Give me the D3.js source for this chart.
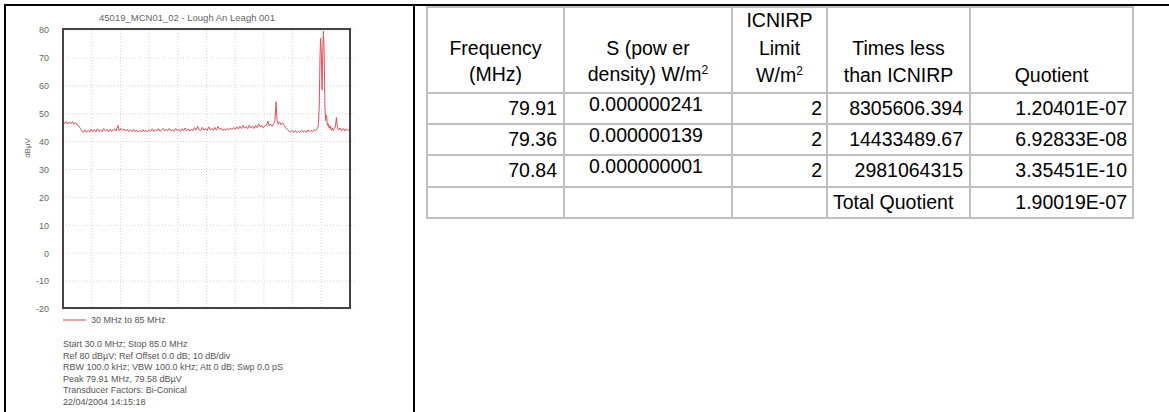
<!DOCTYPE html>
<html>
<head>
<meta charset="utf-8">
<script src="https://cdn.jsdelivr.net/npm/d3@7"></script>
<style>
  body { margin: 0; background: #fff; }
  svg { display: block; font-family: "Liberation Sans", Arial, sans-serif; }
</style>
</head>
<body>
<script>
// spectrum trace: [MHz, dBuV]
const traceMHz = [30.0,30.3,30.6,30.9,31.2,31.5,31.8,32.1,32.4,32.7,33.0,33.3,33.6,33.9,34.2,34.5,34.8,35.1,35.4,35.7,
  36.0,36.3,36.6,36.9,37.2,37.5,37.8,38.1,38.4,38.7,39.0,39.3,39.6,39.9,40.2,40.5,40.8,41.1,41.4,41.7,
  42.0,42.3,42.6,42.9,43.2,43.5,43.8,44.1,44.4,44.7,45.0,45.3,45.6,45.9,46.2,46.5,46.8,47.1,47.4,47.7,
  48.0,48.3,48.6,48.9,49.2,49.5,49.8,50.1,50.4,50.7,51.0,51.3,51.6,51.9,52.2,52.5,52.8,53.1,53.4,53.7,
  54.0,54.3,54.6,54.9,55.2,55.5,55.8,56.1,56.4,56.7,57.0,57.3,57.6,57.9,58.2,58.5,58.8,59.1,59.4,59.7,
  60.0,60.3,60.6,60.9,61.2,61.5,61.8,62.1,62.4,62.7,63.0,63.3,63.6,63.9,64.2,64.5,64.8,65.1,65.4,65.7,
  66.0,66.3,66.6,66.9,67.2,67.5,67.8,68.1,68.4,68.7,69.0,69.3,69.5,69.8,70.1,70.4,70.6,70.84,71.0,71.2,
  71.5,71.8,72.1,72.4,72.7,73.0,73.3,73.6,73.9,74.2,74.5,74.8,75.1,75.4,75.7,76.0,76.3,76.6,76.9,77.2,
  77.5,77.8,78.1,78.4,78.7,78.9,79.1,79.25,79.36,79.5,79.65,79.8,79.91,80.05,80.2,80.35,80.5,80.65,80.8,81.0,
  81.2,81.4,81.6,81.8,82.0,82.2,82.4,82.6,82.8,83.1,83.4,83.7,84.0,84.3,84.6,85.0];
const traceDB = [47.2,46.5,47.2,46.3,47.0,46.4,47.2,46.2,46.8,45.9,45.6,44.8,44.0,43.3,44.2,43.3,44.0,43.4,44.4,43.6,
  44.3,43.5,44.6,43.7,44.2,43.5,44.7,43.8,44.3,43.5,44.4,43.7,44.1,44.6,43.8,45.8,43.9,44.8,44.0,44.5,
  43.8,44.4,43.6,44.2,43.6,44.4,43.5,44.1,43.4,44.0,43.5,44.3,43.6,44.1,43.4,44.2,43.7,44.6,43.6,44.3,
  43.8,44.7,43.7,44.2,44.8,43.8,44.4,43.9,44.8,43.8,44.3,43.7,44.7,43.9,44.4,43.6,44.6,43.9,44.9,44.0,
  44.6,43.8,44.5,43.9,45.0,44.1,45.5,44.2,43.9,45.1,44.1,44.7,43.9,45.3,44.2,44.8,44.0,45.1,44.1,45.4,
  44.3,44.8,43.9,44.6,44.0,44.7,44.2,44.9,44.3,45.1,44.4,45.3,44.5,45.5,44.7,45.8,44.8,45.4,44.6,45.9,
  44.9,45.6,44.7,45.8,45.0,46.4,45.2,45.9,44.9,45.7,45.9,47.3,45.7,46.3,45.5,46.6,47.5,54.3,48.0,46.2,
  47.1,46.0,46.7,45.8,45.0,44.4,43.8,43.4,44.0,43.3,43.9,43.2,43.8,43.3,44.1,43.4,43.9,43.3,44.2,43.5,
  44.1,43.6,44.3,43.8,44.6,45.5,52.0,70.0,77.0,72.0,58.6,74.0,79.58,72.0,52.0,47.5,49.5,45.8,46.5,44.8,
  45.7,44.1,45.0,43.9,44.7,45.2,48.6,45.0,44.2,44.9,43.9,44.7,43.8,44.6,44.0,44.6];
const yTicks = [80, 70, 60, 50, 40, 30, 20, 10, 0, -10, -20];
const chartTitle = "45019_MCN01_02 - Lough An Leagh 001";
const legendLabel = "30 MHz to 85 MHz";
const notes = [
  "Start 30.0 MHz; Stop 85.0 MHz",
  "Ref 80 dB\u00b5V; Ref Offset 0.0 dB; 10 dB/div",
  "RBW 100.0 kHz; VBW 100.0 kHz; Att 0 dB; Swp 0.0 pS",
  "Peak 79.91 MHz, 79.58 dB\u00b5V",
  "Transducer Factors: Bi-Conical",
  "22/04/2004 14:15:18"
];

// table
const freqCol = ["79.91", "79.36", "70.84"];
const densityCol = ["0.000000241", "0.000000139", "0.000000001"];
const limitCol = [2, 2, 2];
const timesLessCol = ["8305606.394", "14433489.67", "2981064315"];
const quotientCol = ["1.20401E-07", "6.92833E-08", "3.35451E-10"];
const totalQuotient = "1.90019E-07";

const svg = d3.select("body").append("svg")
  .attr("width", 1169).attr("height", 412);

// outer frame lines
svg.append("line").attr("x1", 4).attr("x2", 1169).attr("y1", 5).attr("y2", 5)
  .attr("stroke", "#000").attr("stroke-width", 2);
svg.append("line").attr("x1", 5).attr("x2", 5).attr("y1", 4).attr("y2", 412)
  .attr("stroke", "#000").attr("stroke-width", 2);
svg.append("line").attr("x1", 414).attr("x2", 414).attr("y1", 4).attr("y2", 412)
  .attr("stroke", "#000").attr("stroke-width", 2);

// ---- spectrum plot ----
const plot = {left: 63, right: 350, top: 30, bottom: 309};
const x = d3.scaleLinear().domain([30, 85]).range([plot.left, plot.right]);
const y = d3.scaleLinear().domain([-20, 80]).range([plot.bottom, plot.top]);

svg.append("text")
  .attr("x", 187).attr("y", 21)
  .attr("text-anchor", "middle")
  .style("font-size", "9.5px").attr("fill", "#666")
  .text(chartTitle);

const grid = svg.append("g").attr("stroke", "#d4d4d4").attr("stroke-dasharray", "1,2");
yTicks.forEach(t => {
  grid.append("line").attr("x1", plot.left).attr("x2", plot.right + 5)
    .attr("y1", y(t)).attr("y2", y(t));
});
d3.range(1, 10).forEach(i => {
  const f = 30 + i * 5.5;
  grid.append("line").attr("x1", x(f)).attr("x2", x(f))
    .attr("y1", plot.top).attr("y2", plot.bottom);
});

const yAxis = svg.append("g")
  .attr("transform", `translate(${plot.left},0)`)
  .call(d3.axisLeft(y).tickValues(yTicks).tickSize(0).tickPadding(14).tickFormat(d => String(d)));
yAxis.select(".domain").remove();
yAxis.selectAll("text").style("font-size", "9px").attr("fill", "#666")
  .style("font-family", "'Liberation Sans', Arial, sans-serif");

svg.append("text")
  .attr("transform", "translate(30,148) rotate(-90)")
  .attr("text-anchor", "middle")
  .style("font-size", "8px").attr("fill", "#666")
  .text("dB\u00b5V");

const trace = traceMHz.map((f, i) => [f, traceDB[i]]);
svg.append("path")
  .datum(trace)
  .attr("fill", "none")
  .attr("stroke", "#e8505a")
  .attr("stroke-width", 1)
  .attr("d", d3.line().x(d => x(d[0])).y(d => y(d[1])));

svg.append("rect")
  .attr("x", plot.left).attr("y", plot.top - 1)
  .attr("width", plot.right - plot.left).attr("height", plot.bottom - plot.top)
  .attr("fill", "none").attr("stroke", "#444").attr("stroke-width", 2);

// legend
svg.append("line").attr("x1", 63).attr("x2", 86).attr("y1", 320).attr("y2", 320)
  .attr("stroke", "#f08080").attr("stroke-width", 1.5);
svg.append("text").attr("x", 91).attr("y", 323)
  .style("font-size", "9px").attr("fill", "#555").text(legendLabel);

svg.append("g").selectAll("text")
  .data(notes).enter().append("text")
  .attr("x", 63).attr("y", (d, i) => 347 + i * 11.6)
  .style("font-size", "9px").attr("fill", "#555")
  .text(d => d);

// ---- table ----
const colX = [427, 564, 732, 827, 970, 1133];
const rowY = [7, 93, 124, 155, 187, 218];
const tbl = svg.append("g").style("font-size", "19.5px").attr("fill", "#000");

colX.forEach(cx => {
  tbl.append("line").attr("x1", cx).attr("x2", cx).attr("y1", rowY[0]).attr("y2", rowY[5])
    .attr("stroke", "#c0c0c0").attr("stroke-width", 2);
});
rowY.forEach(ry => {
  tbl.append("line").attr("x1", colX[0] - 1).attr("x2", colX[5] + 1).attr("y1", ry).attr("y2", ry)
    .attr("stroke", "#c0c0c0").attr("stroke-width", 2);
});

const mid = i => (colX[i] + colX[i + 1]) / 2;
const header = [
  {c: 0, y: 55, t: "Frequency"}, {c: 0, y: 81, t: "(MHz)"},
  {c: 1, y: 55, t: "S (pow er"}, {c: 1, y: 81, t: "density) W/m", sup: true},
  {c: 2, y: 27, t: "ICNIRP"}, {c: 2, y: 55, t: "Limit"}, {c: 2, y: 82, t: "W/m", sup: true},
  {c: 3, y: 55, t: "Times less"}, {c: 3, y: 82, t: "than ICNIRP"},
  {c: 4, y: 82, t: "Quotient"}
];
header.forEach(h => {
  const t = tbl.append("text").attr("x", mid(h.c)).attr("y", h.y).attr("text-anchor", "middle");
  t.append("tspan").text(h.t);
  if (h.sup) t.append("tspan").attr("dy", -7).style("font-size", "12px").text("2");
});

freqCol.forEach((f, i) => {
  const base = rowY[i + 1] + 22;
  tbl.append("text").attr("x", colX[1] - 7).attr("y", base).attr("text-anchor", "end").text(f);
  tbl.append("text").attr("x", mid(1) - 2).attr("y", base - 4).attr("text-anchor", "middle").text(densityCol[i]);
  tbl.append("text").attr("x", colX[3] - 5).attr("y", base).attr("text-anchor", "end").text(limitCol[i]);
  tbl.append("text").attr("x", colX[4] - 7).attr("y", base).attr("text-anchor", "end").text(timesLessCol[i]);
  tbl.append("text").attr("x", colX[5] - 6).attr("y", base).attr("text-anchor", "end").text(quotientCol[i]);
});
tbl.append("text").attr("x", colX[3] + 6).attr("y", rowY[4] + 22).text("Total Quotient");
tbl.append("text").attr("x", colX[5] - 6).attr("y", rowY[4] + 22).attr("text-anchor", "end").text(totalQuotient);
</script>
</body>
</html>
